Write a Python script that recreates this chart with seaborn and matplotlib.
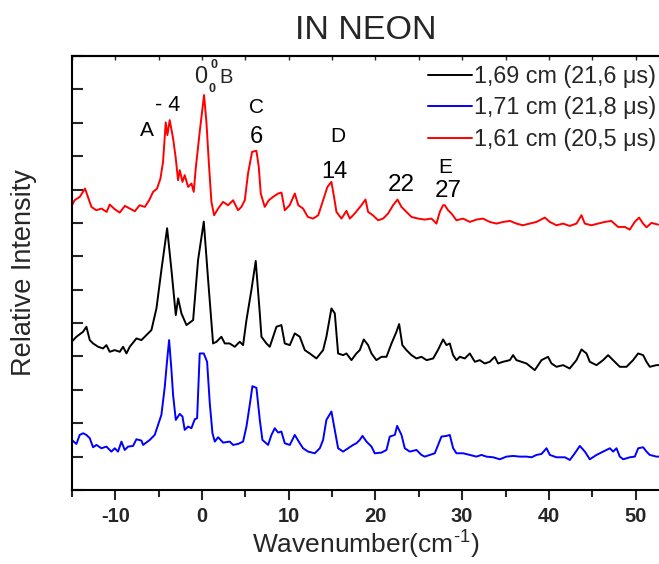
import numpy as np
import pandas as pd
import matplotlib
matplotlib.use("Agg")
import matplotlib.pyplot as plt
from matplotlib.ticker import MultipleLocator, NullFormatter
import seaborn as sns

# ---------------- data ----------------
labels = ["1,69 cm (21,6 \u03bcs)", "1,71 cm (21,8 \u03bcs)", "1,61 cm (20,5 \u03bcs)"]
colors = ["black", "#0000ff", "#ff0000"]

black_x = [-15.03, -14.49, -13.72, -13.34, -12.95, -12.57, -11.99, -11.42, -11.03, -10.65,
           -10.07, -9.49, -9.11, -8.72, -8.34, -7.57, -6.99, -6.61, -5.84, -5.26, -4.69,
           -4.03, -3.53, -3.03, -2.76, -2.38, -1.8, -1.03, -0.46, 0.2, 0.7, 1.27, 1.66,
           2.23, 2.62, 3.19, 3.77, 4.35, 4.73, 5.12, 5.69, 6.19, 6.66, 6.85, 7.42, 7.81,
           8.58, 9.15, 9.54, 10.12, 10.69, 11.27, 11.85, 12.42, 13.19, 13.96, 14.34, 14.92,
           15.31, 15.69, 16.27, 16.65, 17.23, 17.8, 18.19, 18.65, 19.15, 19.54, 20.1, 20.7,
           21.27, 21.85, 22.42, 22.73, 23.1, 23.57, 24.15, 24.73, 25.3, 25.9, 26.65, 27.2,
           27.8, 28.19, 28.57, 28.95, 29.34, 29.72, 30.3, 30.88, 31.46, 32.03, 32.6, 33.18,
           33.76, 34.14, 34.7, 35.5, 35.87, 36.26, 36.84, 37.42, 38.37, 38.76, 39.15, 39.9,
           40.3, 40.88, 41.64, 42.4, 43.18, 43.76, 44.34, 44.72, 45.49, 46.25, 46.83, 47.4,
           48.18, 48.95, 49.71, 50.29, 50.87, 51.26, 51.64, 52.4, 52.7]
black_y = [4.44, 4.59, 4.74, 4.89, 4.49, 4.39, 4.29, 4.24, 4.34, 4.14,
           4.19, 4.14, 4.29, 4.09, 4.29, 4.54, 4.49, 4.59, 4.79, 5.44, 6.59,
           7.84, 6.59, 5.24, 5.74, 5.29, 4.94, 5.09, 6.89, 8.04, 6.29, 4.39, 4.44,
           4.59, 4.39, 4.39, 4.29, 4.44, 4.34, 5.09, 5.99, 6.86, 5.29, 4.59, 4.39, 4.29,
           4.89, 4.94, 4.39, 4.34, 4.69, 4.59, 4.19, 4.09, 3.94, 4.19, 4.59, 5.44,
           5.29, 4.09, 4.04, 4.09, 3.89, 4.09, 4.19, 4.51, 4.34, 4.09, 3.89, 3.99,
           3.99, 4.39, 4.74, 4.97, 4.34, 4.19, 4.04, 3.94, 3.99, 3.89, 3.94, 4.19,
           4.51, 4.34, 4.39, 4.04, 3.89, 3.99, 3.94, 4.09, 3.84, 3.89, 3.79, 3.84,
           3.99, 3.79, 3.84, 3.89, 4.04, 3.89, 3.84, 3.79, 3.59, 3.74, 3.89, 3.99,
           3.79, 3.69, 3.74, 3.64, 3.89, 4.21, 4.09, 3.84, 3.74, 3.89, 4.04, 3.89,
           3.69, 3.69, 3.89, 4.09, 4.04, 3.84, 3.69, 3.74, 3.74]

blue_x = [-15.03, -14.49, -14.11, -13.72, -13.34, -12.95, -12.57, -12.18, -11.61, -11.03,
          -10.46, -10.07, -9.69, -9.3, -8.92, -8.53, -7.96, -7.57, -6.99, -6.8, -6.03,
          -5.46, -5.07, -4.69, -4.3, -4.03, -3.8, -3.53, -3.34, -3.03, -2.57, -2.26, -2.0,
          -1.61, -1.23, -0.84, -0.57, -0.27, 0.2, 0.58, 0.89, 1.2, 1.47, 1.85, 2.43, 3.19,
          3.58, 4.16, 4.73, 5.12, 5.5, 5.81, 6.27, 6.66, 6.96, 7.62, 8.0, 8.39, 8.77, 9.15,
          9.54, 10.12, 10.69, 11.27, 11.65, 12.23, 13.0, 13.58, 13.96, 14.34, 14.92, 15.31,
          15.69, 16.27, 16.84, 17.42, 17.8, 18.19, 18.5, 18.96, 19.54, 19.92, 20.69, 21.27,
          21.65, 22.23, 22.5, 23.0, 23.38, 23.96, 24.73, 25.3, 25.69, 26.27, 26.84, 27.61,
          28.19, 28.57, 28.96, 29.34, 30.11, 30.88, 31.65, 32.22, 32.8, 33.57, 34.34, 35.11,
          35.88, 36.65, 37.42, 38.0, 38.57, 39.15, 39.73, 40.11, 40.88, 41.84, 42.42, 42.99,
          43.57, 44.15, 44.72, 45.49, 46.26, 47.03, 47.41, 47.8, 48.18, 48.57, 49.34, 49.91,
          50.3, 50.87, 51.26, 51.64, 52.41, 52.7]
blue_y = [1.50, 1.38, 1.65, 1.70, 1.65, 1.55, 1.28, 1.35, 1.25, 1.30,
          1.15, 1.25, 1.15, 1.45, 1.20, 1.30, 1.32, 1.52, 1.48, 1.35, 1.50,
          1.65, 1.95, 2.25, 3.09, 3.89, 4.49, 3.59, 2.84, 2.10, 2.28, 2.20, 1.80,
          1.90, 1.85, 2.12, 2.15, 4.09, 4.09, 3.84, 2.60, 1.70, 1.45, 1.58, 1.42, 1.45,
          1.35, 1.38, 1.45, 1.90, 2.55, 3.11, 3.06, 2.10, 1.50, 1.35, 1.65, 1.85, 1.72, 1.75,
          1.40, 1.35, 1.65, 1.40, 1.25, 1.15, 1.10, 1.25, 1.50, 2.10, 2.35, 1.80,
          1.25, 1.15, 1.25, 1.35, 1.40, 1.50, 1.62, 1.45, 1.30, 1.10, 1.12, 1.20,
          1.60, 1.65, 1.92, 1.65, 1.25, 1.15, 1.20, 1.05, 1.00, 1.05, 1.10, 1.60,
          1.62, 1.65, 1.25, 1.10, 1.10, 1.05, 1.00, 1.05, 1.00, 0.98, 0.92, 1.00,
          1.02, 1.00, 1.00, 0.98, 1.05, 1.08, 1.25, 1.05, 0.98, 0.98, 0.90, 1.10,
          1.32, 1.15, 0.92, 1.05, 1.15, 1.25, 1.15, 1.25, 1.00, 0.92, 0.98, 1.00,
          1.25, 1.28, 1.15, 1.05, 1.00, 1.00]

red_x = [-15.0, -14.7, -14.1, -13.5, -13.1, -12.76, -12.2, -11.6, -11.0, -10.65, -10.07,
         -9.5, -8.9, -8.34, -7.76, -7.2, -6.6, -6.1, -5.65, -5.19, -4.8, -4.5, -4.19, -4.0,
         -3.73, -3.34, -3.03, -2.77, -2.57, -2.26, -2.0, -1.61, -1.22, -0.96, -0.73, -0.27,
         0.23, 0.5, 0.8, 1.08, 1.39, 1.85, 2.42, 3.0, 3.58, 4.15, 4.54, 4.93, 5.3, 5.77,
         6.27, 6.54, 6.77, 7.23, 7.7, 8.19, 8.77, 9.16, 9.54, 10.1, 10.7, 11.1, 11.65, 12.2,
         12.8, 13.4, 13.96, 14.46, 14.92, 15.22, 15.5, 16.08, 16.65, 17.04, 17.6, 18.38,
         18.85, 19.15, 19.7, 20.3, 20.88, 21.45, 22.03, 22.54, 23.0, 23.58, 24.15, 24.9,
         25.7, 26.46, 27.03, 27.42, 27.8, 28.0, 28.37, 28.77, 29.34, 30.1, 30.88, 31.65,
         32.4, 33.18, 33.96, 34.72, 35.5, 36.26, 37.0, 37.8, 38.57, 39.53, 40.1, 40.88,
         41.64, 42.4, 43.18, 43.76, 44.14, 44.9, 45.7, 46.45, 47.2, 47.98, 48.75, 49.33,
         49.9, 50.4, 50.87, 51.26, 51.83, 52.6]
red_y = [8.53, 8.68, 8.78, 9.03, 8.73, 8.48, 8.38, 8.43, 8.33, 8.55, 8.41,
         8.31, 8.51, 8.43, 8.35, 8.53, 8.48, 8.68, 8.93, 9.03, 9.33, 9.83, 11.01, 10.63,
         11.08, 10.53, 9.93, 9.28, 9.58, 9.23, 9.43, 9.08, 9.18, 8.93, 9.63, 10.73,
         11.83, 11.03, 9.73, 8.63, 8.23, 8.43, 8.63, 8.53, 8.68, 8.38, 8.48, 8.68, 9.48, 10.13,
         10.16, 9.68, 8.88, 8.48, 8.68, 8.78, 8.88, 8.91, 8.38, 8.53, 8.88, 8.53, 8.43, 8.18,
         8.13, 8.23, 8.68, 9.08, 9.23, 8.78, 8.33, 8.13, 8.36, 8.13, 8.28, 8.53,
         8.70, 8.33, 8.23, 8.08, 8.13, 8.28, 8.53, 8.70, 8.48, 8.33, 8.18, 8.13,
         8.10, 8.13, 7.98, 8.33, 8.53, 8.53, 8.38, 8.28, 8.08, 8.13, 8.03, 8.10,
         8.13, 8.03, 7.98, 8.03, 8.06, 7.98, 7.93, 7.98, 8.03, 8.16, 8.03, 7.93,
         7.98, 7.91, 7.98, 8.23, 7.98, 7.93, 7.98, 8.03, 8.06, 7.88, 7.88, 7.80,
         8.03, 8.16, 7.98, 7.87, 8.00, 7.95]

x_major_ticks = [-10, 0, 10, 20, 30, 40, 50]

# peak annotations: (text, x, baseline y, fontsize)
peak_labels = [("A", -6.4, 10.6, 15), ("- 4", -4.0, 11.35, 15.5), ("C", 6.3, 11.29, 15),
               ("6", 6.3, 10.39, 17), ("D", 15.6, 10.42, 15), ("14", 15.3, 9.34, 17),
               ("22", 23.0, 8.95, 17.5), ("E", 28.0, 9.49, 15), ("27", 28.45, 8.77, 17.5)]

# ---------------- build the long table ----------------
frames = []
for lab, xs, ys in zip(labels, [black_x, blue_x, red_x], [black_y, blue_y, red_y]):
    frames.append(pd.DataFrame({"wavenumber": xs, "intensity": ys, "series": lab}))
df = pd.concat(frames, ignore_index=True)

sns.set_theme(style="ticks")
plt.rcParams["font.family"] = ["Liberation Sans", "DejaVu Sans"]
plt.rcParams["mathtext.fontset"] = "custom"
plt.rcParams["mathtext.rm"] = "Liberation Sans"
plt.rcParams["mathtext.it"] = "Liberation Sans:italic"
plt.rcParams["mathtext.bf"] = "Liberation Sans:bold"

fig = plt.figure(figsize=(6.59, 5.64), dpi=100)
ax = fig.add_axes([72 / 659, 1 - 490 / 564, 1 - 72 / 659, (490 - 56) / 564])

sns.lineplot(data=df, x="wavenumber", y="intensity", hue="series", hue_order=labels,
             palette=colors, sort=False, estimator=None, linewidth=1.4, ax=ax)

ax.set_xlim(-15, 52.7)
ax.set_ylim(0, 13)

ax.xaxis.set_minor_locator(MultipleLocator(5))
ax.set_xticks(x_major_ticks)
ax.set_xticklabels([str(t) for t in x_major_ticks], fontweight="bold", fontsize=14.5)
ax.yaxis.set_major_locator(MultipleLocator(1))
ax.yaxis.set_major_formatter(NullFormatter())

ax.tick_params(axis="x", which="major", direction="out", length=7, width=1.5, pad=5,
               top=False)
ax.tick_params(axis="x", which="minor", direction="out", length=5, width=1.5, top=False)
ax.tick_params(axis="y", which="major", direction="in", length=8, width=1.5, left=True)

# small inward ticks along the top edge
sec = ax.secondary_xaxis("top")
sec.xaxis.set_major_locator(MultipleLocator(5))
sec.tick_params(direction="in", length=3, width=1.0, labeltop=False)
sec.spines["top"].set_linewidth(1.5)

for s in ["left", "bottom", "top"]:
    ax.spines[s].set_linewidth(1.5)
    ax.spines[s].set_color("black")
ax.spines["right"].set_visible(False)

ax.set_xlabel(r"Wavenumber(cm$^{\text{-1}}$)", fontsize=19, labelpad=2)
ax.set_ylabel("Relative Intensity", fontsize=19.5, labelpad=22)
ax.set_title("IN NEON", fontsize=24.5, pad=12)

for txt, x, y, fs in peak_labels:
    ax.text(x, y, txt, ha="center", va="baseline", fontsize=fs, color="black")

# 0^0_0 B label
ax.text(-0.15, 12.19, "0", ha="center", va="baseline", fontsize=17)
ax.text(1.37, 12.72, "0", ha="center", va="center", fontsize=9, fontweight="bold")
ax.text(1.18, 12.0, "0", ha="center", va="center", fontsize=9, fontweight="bold")
ax.text(2.0, 12.19, "B", ha="left", va="baseline", fontsize=14.5)

handles, labs = ax.get_legend_handles_labels()
leg = ax.legend(handles, labs, loc="upper right", bbox_to_anchor=(656 / 659, 1 - 65 / 564),
                bbox_transform=fig.transFigure, frameon=False, fontsize=16.8,
                handlelength=1.9, handletextpad=0.08, labelspacing=0.36, borderpad=0,
                borderaxespad=0)
for line in leg.get_lines():
    line.set_linewidth(1.4)

fig.savefig("out.png", dpi=100)
